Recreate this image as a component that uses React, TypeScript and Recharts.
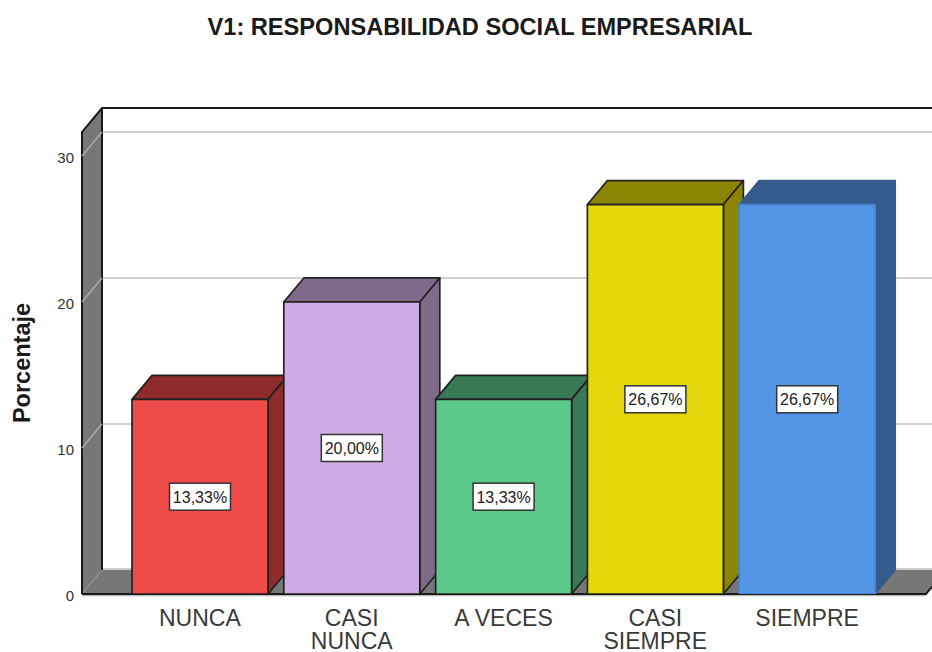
import { BarChart, Bar, XAxis, YAxis, ReferenceArea, LabelList, usePlotArea } from 'recharts';

const categories = ['NUNCA', 'CASI NUNCA', 'A VECES', 'CASI SIEMPRE', 'SIEMPRE'];
const percentages = [13.33, 20.0, 13.33, 26.67, 26.67];
const yTicks = [0, 10, 20, 30];
const gridTicks = [10, 20, 30];

const frontColors = ['#ef4b4b', '#cfaae5', '#5cc98a', '#e4d80c', '#5295e5'];
const sideColors = ['#8f2b2b', '#7f6a8c', '#387a56', '#8b8405', '#345b8c'];
const edgeColors = ['#222222', '#222222', '#222222', '#222222', '#4a86d0'];

const chartData = categories.map((name, i) => ({ name, value: percentages[i] }));

// 3D offset of the box look
const DX = 20;
const DY = -24;
const FONT = '"Liberation Sans", Arial, sans-serif';

// Left wall and floor, hung on the full plot rectangle
const Walls = () => {
  const plot = usePlotArea();
  if (!plot) return null;
  const { x, y, width, height } = plot;
  const bottom = y + height;
  const right = x + width;
  return (
    <g>
      <path
        d={`M${x},${y} L${x + DX},${y + DY} L${x + DX},${bottom + DY} L${x},${bottom} Z`}
        fill="#777"
      />
      <path
        d={`M${x},${bottom} L${x + DX},${bottom + DY} L${right + DX},${bottom + DY} L${right},${bottom} Z`}
        fill="#777"
      />
      <line x1={x} y1={bottom + 1.5} x2={right} y2={bottom + 1.5} stroke="#bbb" strokeWidth={1.5} />
      <line x1={x + DX} y1={bottom + DY - 1} x2={right + DX} y2={bottom + DY - 1} stroke="#bbb" strokeWidth={1.5} />
      <line x1={x} y1={bottom} x2={x + DX} y2={bottom + DY} stroke="#999" strokeWidth={1} />
      <path
        d={`M${x},${bottom} L${x},${y} L${x + DX},${y + DY} L${right + DX},${y + DY} M${x + DX},${y + DY} L${x + DX},${bottom + DY} M${x},${bottom} L${right},${bottom} L${right + DX},${bottom + DY}`}
        fill="none"
        stroke="#1a1a1a"
        strokeWidth={2}
      />
    </g>
  );
};

// Gridline runs up the left wall, then along the back wall
const GridLine = (props: any) => {
  const plot = usePlotArea();
  if (!plot) return null;
  const { x, width } = plot;
  const { y } = props;
  return (
    <g>
      <line x1={x} y1={y} x2={x + DX} y2={y + DY} stroke="#aaa" strokeWidth={1.5} />
      <line x1={x + DX + 1} y1={y + DY} x2={x + width + DX} y2={y + DY} stroke="#d2d2d2" strokeWidth={2} />
    </g>
  );
};

const BoxBar = (props: any) => {
  const { x, y, width, height, index } = props;
  const edge = edgeColors[index];
  const sideEdge = index === 4 ? sideColors[index] : edge;
  return (
    <g strokeWidth={1.7} strokeLinejoin="round">
      <path
        d={`M${x},${y} L${x + DX},${y + DY} L${x + width + DX},${y + DY} L${x + width},${y} Z`}
        fill={sideColors[index]}
        stroke={sideEdge}
      />
      <path
        d={`M${x + width},${y} L${x + width + DX},${y + DY} L${x + width + DX},${y + height + DY} L${x + width},${y + height} Z`}
        fill={sideColors[index]}
        stroke={sideEdge}
      />
      <rect x={x} y={y} width={width} height={height} fill={frontColors[index]} stroke={edge} />
    </g>
  );
};

const ValueBox = (props: any) => {
  const { x, y, width, height, value } = props;
  const cx = x + width / 2;
  const cy = y + height / 2;
  const text = `${Number(value).toFixed(2).replace('.', ',')}%`;
  return (
    <g>
      <rect x={cx - 30.5} y={cy - 13.5} width={61} height={27} fill="#fff" stroke="#333" strokeWidth={1.5} />
      <text x={cx} y={cy + 6} textAnchor="middle" fontSize={16} fontFamily={FONT} fill="#222">
        {text}
      </text>
    </g>
  );
};

const CategoryTick = (props: any) => {
  const { x, y, payload } = props;
  const words = String(payload.value);
  const lines = words.startsWith('CASI') ? words.split(' ') : [words];
  return (
    <text x={x} textAnchor="middle" fontSize={23} fontFamily={FONT} fill="#3a3a3a">
      {lines.map((line, i) => (
        <tspan key={line} x={x} y={y + 24 + i * 23}>
          {line}
        </tspan>
      ))}
    </text>
  );
};

export default function App() {
  return (
    <div style={{ position: 'absolute', left: 0, top: 0, width: 932, height: 652, overflow: 'hidden', background: '#fff' }}>
      <div
        style={{
          position: 'absolute',
          left: 0,
          top: 14,
          width: 960,
          textAlign: 'center',
          fontFamily: FONT,
          fontWeight: 700,
          fontSize: 23.6,
          lineHeight: '26px',
          color: '#1a1a1a',
          whiteSpace: 'nowrap',
        }}
      >
        V1: RESPONSABILIDAD SOCIAL EMPRESARIAL
      </div>
      <BarChart
        width={932}
        height={652}
        data={chartData}
        margin={{ top: 132, right: 6, bottom: 0, left: 0 }}
        barSize={136}
        style={{ fontFamily: FONT }}
      >
        <ReferenceArea y1={0} y2={31.64} shape={<Walls />} ifOverflow="visible" />
        {gridTicks.map((t) => (
          <ReferenceArea key={t} y1={t} y2={t} shape={<GridLine />} ifOverflow="visible" />
        ))}
        <XAxis
          dataKey="name"
          height={58}
          axisLine={false}
          tickLine={false}
          interval={0}
          tick={<CategoryTick />}
          padding={{ left: 42, right: 43 }}
        />
        <YAxis
          width={82}
          domain={[0, 31.64]}
          ticks={yTicks}
          allowDataOverflow
          axisLine={false}
          tickLine={false}
          tick={{ fill: '#333', fontSize: 15, fontFamily: FONT, dy: 2 }}
          label={{
            value: 'Porcentaje',
            angle: -90,
            position: 'insideLeft',
            offset: 22,
            style: { fontFamily: FONT, fontWeight: 700, fontSize: 23.5, fill: '#1a1a1a', textAnchor: 'middle' },
          }}
        />
        <Bar dataKey="value" shape={<BoxBar />} isAnimationActive={false}>
          <LabelList dataKey="value" content={<ValueBox />} />
        </Bar>
      </BarChart>
    </div>
  );
}
